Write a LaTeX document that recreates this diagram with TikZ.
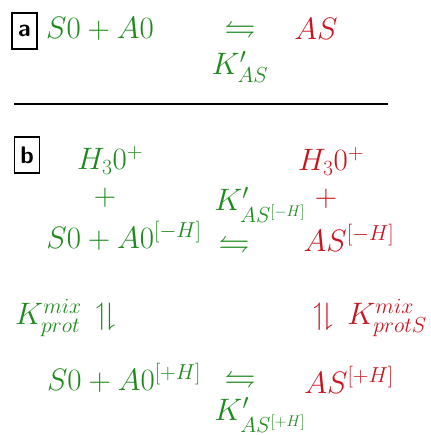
\RequirePackage{fix-cm}
\documentclass[tikz,border=0pt]{standalone}
\usepackage{amsmath,amssymb}
\definecolor{eqgreen}{RGB}{30,138,30}
\definecolor{eqred}{RGB}{200,20,30}
\tikzset{
  eq/.style={inner sep=0pt, font=\fontsize{31}{35}\selectfont},
  gr/.style={eq, text=eqgreen},
  rd/.style={eq, text=eqred},
  lbl/.style={draw, line width=1.5pt, inner sep=0pt, minimum width=25pt, minimum height=36pt, font=\fontsize{24}{28}\sffamily\bfseries}
}
\begin{document}
\begin{tikzpicture}[x=1pt,y=-1pt]
\useasboundingbox (0,0) rectangle (430,435);
% panel a
\node[lbl] (la) at (24.5,31) {a};
\node[gr] (a1) at (100,29) {$S0+A0$};
\node[gr] (a2) at (240,30) {$\leftrightharpoons$};
\node[rd] (a3) at (316,29) {$AS$};
\node[gr] (a4) at (240,67) {$K'_{AS}$};
\coordinate (l1) at (14,104);
\coordinate (l2) at (388,104);
\draw[line width=1.5pt] (l1) -- (l2);
% panel b
\node[lbl] (lb) at (27,155) {b};
\node[gr] (b1) at (110,160) {$H_3 0^+$};
\node[gr] (b2) at (105,198) {$+$};
\node[gr] (b3) at (124,236) {$S0+A0^{[-H]}$};
\node[gr] (b4) at (234,245) {$\leftrightharpoons$};
\node[gr] (b5) at (260,205) {$K'_{AS^{[-H]}}$};
\node[rd] (b6) at (331,161) {$H_3 0^+$};
\node[rd] (b7) at (326,199) {$+$};
\node[rd] (b8) at (349,238) {$AS^{[-H]}$};
\node[gr, anchor=west] (b9) at (15,318) {$K^{mix}_{prot}\,\upharpoonleft\!\downharpoonright$};
\node[rd, anchor=east] (b10) at (427,318) {$\upharpoonleft\!\downharpoonright\, K^{mix}_{protS}$};
\node[gr] (b11) at (124,378) {$S0+A0^{[+H]}$};
\node[gr] (b12) at (240,380) {$\leftrightharpoons$};
\node[rd] (b13) at (349,380) {$AS^{[+H]}$};
\node[gr] (b14) at (260,415) {$K'_{AS^{[+H]}}$};
\end{tikzpicture}
\end{document}
